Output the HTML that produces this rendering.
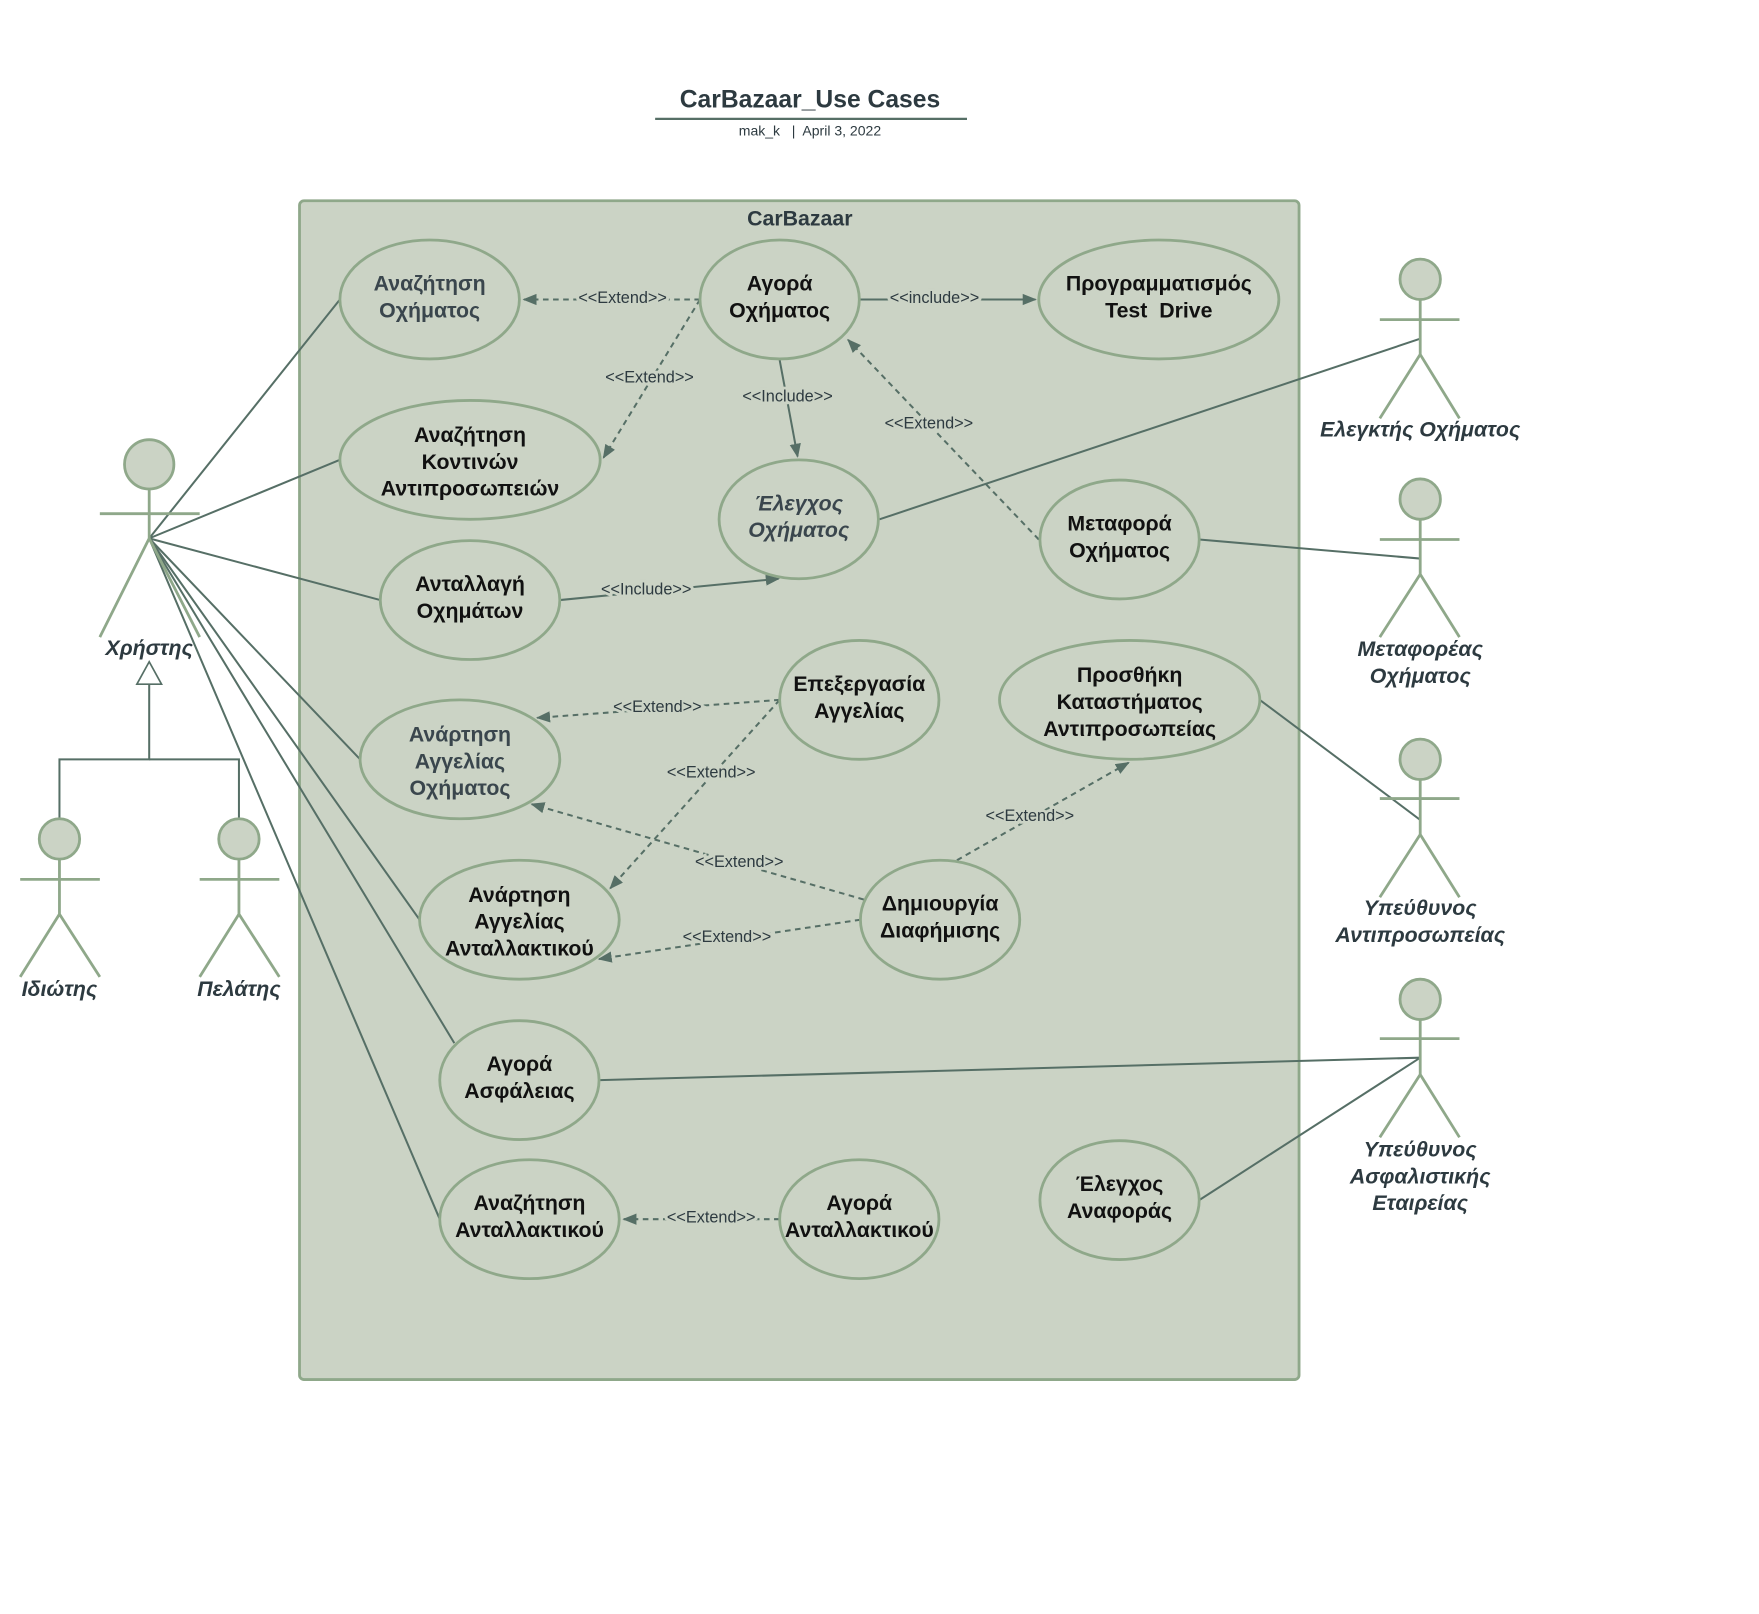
<!DOCTYPE html>
<html><head><meta charset="utf-8"><style>html,body{margin:0;padding:0;background:#fff}svg{display:block}</style></head><body>
<svg width="1759" height="1614" viewBox="0 0 1568 1439" preserveAspectRatio="none" xmlns="http://www.w3.org/2000/svg" font-family="Liberation Sans, DejaVu Sans, sans-serif">
<defs>
<marker id="a" viewBox="0 0 10 10" refX="9" refY="5" markerWidth="7" markerHeight="7" orient="auto"><path d="M0,1 L10,5 L0,9 z" fill="#566f66"/></marker>
</defs>
<text x="722" y="96" text-anchor="middle" font-size="22" font-weight="bold" fill="#2d3a40">CarBazaar_Use Cases</text>
<line x1="584" y1="106" x2="862" y2="106" stroke="#566f66" stroke-width="2"/>
<text x="722" y="121" text-anchor="middle" font-size="12.5" fill="#2d3a40" xml:space="preserve">mak_k   |  April 3, 2022</text>
<rect x="267" y="179" width="891" height="1051" rx="4" fill="#cbd3c5" stroke="#8fa88a" stroke-width="2.5"/>
<text x="713" y="201" text-anchor="middle" font-size="19" font-weight="bold" fill="#2d3a40">CarBazaar</text>
<g stroke="#566f66" stroke-width="1.8" fill="none">
<line x1="133" y1="480" x2="303" y2="267"/><line x1="133" y1="480" x2="303" y2="410"/><line x1="133" y1="480" x2="339" y2="535"/><line x1="133" y1="480" x2="321" y2="677"/><line x1="133" y1="480" x2="374" y2="820"/><line x1="133" y1="480" x2="405" y2="930"/><line x1="133" y1="480" x2="392" y2="1087"/>
<line x1="1266" y1="302" x2="784" y2="463"/><line x1="1266" y1="498" x2="1069" y2="481"/><line x1="1266" y1="731" x2="1123" y2="624"/><line x1="1266" y1="943" x2="535" y2="963"/><line x1="1266" y1="943" x2="1069" y2="1070"/>
<polyline points="133,610 133,677 53,677 53,731"/><polyline points="133,677 213,677 213,731"/>
<g marker-end="url(#a)">
<line x1="766" y1="267" x2="923" y2="267"/><line x1="695" y1="321" x2="711" y2="407"/><line x1="499" y1="535" x2="694" y2="516"/>
<g stroke-dasharray="5,4">
<line x1="624" y1="267" x2="467" y2="267"/><line x1="624" y1="267" x2="538" y2="408"/><line x1="926" y1="481" x2="756" y2="303"/><line x1="695" y1="624" x2="479" y2="640"/><line x1="695" y1="624" x2="544" y2="792"/><line x1="770" y1="802" x2="474" y2="717"/><line x1="767" y1="820" x2="534" y2="855"/><line x1="853" y1="767" x2="1006" y2="680"/><line x1="695" y1="1087" x2="556" y2="1087"/>
</g></g>
</g>
<polygon points="133,590 122,610 144,610" fill="#fff" stroke="#566f66" stroke-width="1.5"/>
<g fill="#cbd3c5" stroke="#8fa88a" stroke-width="2.5">
<ellipse cx="383" cy="267" rx="80" ry="53"/><ellipse cx="695" cy="267" rx="71" ry="53"/><ellipse cx="1033" cy="267" rx="107" ry="53"/><ellipse cx="419" cy="410" rx="116" ry="53"/><ellipse cx="712" cy="463" rx="71" ry="53"/><ellipse cx="998" cy="481" rx="71" ry="53"/><ellipse cx="419" cy="535" rx="80" ry="53"/><ellipse cx="766" cy="624" rx="71" ry="53"/><ellipse cx="1007" cy="624" rx="116" ry="53"/><ellipse cx="410" cy="677" rx="89" ry="53"/><ellipse cx="463" cy="820" rx="89" ry="53"/><ellipse cx="838" cy="820" rx="71" ry="53"/><ellipse cx="463" cy="963" rx="71" ry="53"/><ellipse cx="472" cy="1087" rx="80" ry="53"/><ellipse cx="766" cy="1087" rx="71" ry="53"/><ellipse cx="998" cy="1070" rx="71" ry="53"/>
</g>
<g font-size="14.5" fill="#2d3a40" text-anchor="middle" stroke="#cbd3c5" stroke-width="5" paint-order="stroke">
<text x="555" y="270">&lt;&lt;Extend&gt;&gt;</text><text x="833" y="270">&lt;&lt;include&gt;&gt;</text><text x="579" y="341">&lt;&lt;Extend&gt;&gt;</text><text x="702" y="358">&lt;&lt;Include&gt;&gt;</text><text x="828" y="382">&lt;&lt;Extend&gt;&gt;</text><text x="576" y="530">&lt;&lt;Include&gt;&gt;</text><text x="586" y="635">&lt;&lt;Extend&gt;&gt;</text><text x="634" y="693">&lt;&lt;Extend&gt;&gt;</text><text x="659" y="773">&lt;&lt;Extend&gt;&gt;</text><text x="648" y="840">&lt;&lt;Extend&gt;&gt;</text><text x="918" y="732">&lt;&lt;Extend&gt;&gt;</text><text x="634" y="1090">&lt;&lt;Extend&gt;&gt;</text>
</g>
<g font-size="19" font-weight="bold" fill="#111" text-anchor="middle">
<text x="383" y="259" fill="#3a464d">Αναζήτηση</text><text x="383" y="283" fill="#3a464d">Οχήματος</text>
<text x="695" y="259">Αγορά</text><text x="695" y="283">Οχήματος</text>
<text x="1033" y="259">Προγραμματισμός</text><text x="1033" y="283" xml:space="preserve">Test  Drive</text>
<text x="419" y="394">Αναζήτηση</text><text x="419" y="418">Κοντινών</text><text x="419" y="442">Αντιπροσωπειών</text>
<g font-style="italic" fill="#3a464d"><text x="712" y="455">Έλεγχος</text><text x="712" y="479">Οχήματος</text></g>
<text x="998" y="473">Μεταφορά</text><text x="998" y="497">Οχήματος</text>
<text x="419" y="527">Ανταλλαγή</text><text x="419" y="551">Οχημάτων</text>
<text x="766" y="616">Επεξεργασία</text><text x="766" y="640">Αγγελίας</text>
<text x="1007" y="608">Προσθήκη</text><text x="1007" y="632">Καταστήματος</text><text x="1007" y="656">Αντιπροσωπείας</text>
<g fill="#3a464d"><text x="410" y="661">Ανάρτηση</text><text x="410" y="685">Αγγελίας</text><text x="410" y="709">Οχήματος</text></g>
<text x="463" y="804">Ανάρτηση</text><text x="463" y="828">Αγγελίας</text><text x="463" y="852">Ανταλλακτικού</text>
<text x="838" y="812">Δημιουργία</text><text x="838" y="836">Διαφήμισης</text>
<text x="463" y="955">Αγορά</text><text x="463" y="979">Ασφάλειας</text>
<text x="472" y="1079">Αναζήτηση</text><text x="472" y="1103">Ανταλλακτικού</text>
<text x="766" y="1079">Αγορά</text><text x="766" y="1103">Ανταλλακτικού</text>
<text x="998" y="1062">Έλεγχος</text><text x="998" y="1086">Αναφοράς</text>
</g>
<g fill="#cbd3c5" stroke="#8fa88a" stroke-width="2.5">
<circle cx="133" cy="414" r="22"/>
<path d="M133,436 V480 M89,458 H178 M133,480 L89,568 M133,480 L178,568" fill="none"/>
<circle cx="53" cy="748" r="18"/><path d="M53,766 V815 M18,784 H89 M53,815 L18,871 M53,815 L89,871" fill="none"/>
<circle cx="213" cy="748" r="18"/><path d="M213,766 V815 M178,784 H249 M213,815 L178,871 M213,815 L249,871" fill="none"/>
<circle cx="1266" cy="249" r="18"/><path d="M1266,267 V316 M1230,285 H1301 M1266,316 L1230,373 M1266,316 L1301,373" fill="none"/>
<circle cx="1266" cy="445" r="18"/><path d="M1266,463 V512 M1230,481 H1301 M1266,512 L1230,568 M1266,512 L1301,568" fill="none"/>
<circle cx="1266" cy="677" r="18"/><path d="M1266,695 V744 M1230,712 H1301 M1266,744 L1230,800 M1266,744 L1301,800" fill="none"/>
<circle cx="1266" cy="891" r="18"/><path d="M1266,909 V958 M1230,926 H1301 M1266,958 L1230,1014 M1266,958 L1301,1014" fill="none"/>
</g>
<g font-size="19" font-weight="bold" font-style="italic" fill="#2d3a40" text-anchor="middle">
<text x="133" y="584">Χρήστης</text><text x="53" y="888">Ιδιώτης</text><text x="213" y="888">Πελάτης</text>
<text x="1266" y="389">Ελεγκτής Οχήματος</text>
<text x="1266" y="585">Μεταφορέας</text><text x="1266" y="609">Οχήματος</text>
<text x="1266" y="816">Υπεύθυνος</text><text x="1266" y="840">Αντιπροσωπείας</text>
<text x="1266" y="1031">Υπεύθυνος</text><text x="1266" y="1055">Ασφαλιστικής</text><text x="1266" y="1079">Εταιρείας</text>
</g>
</svg>
</body></html>
